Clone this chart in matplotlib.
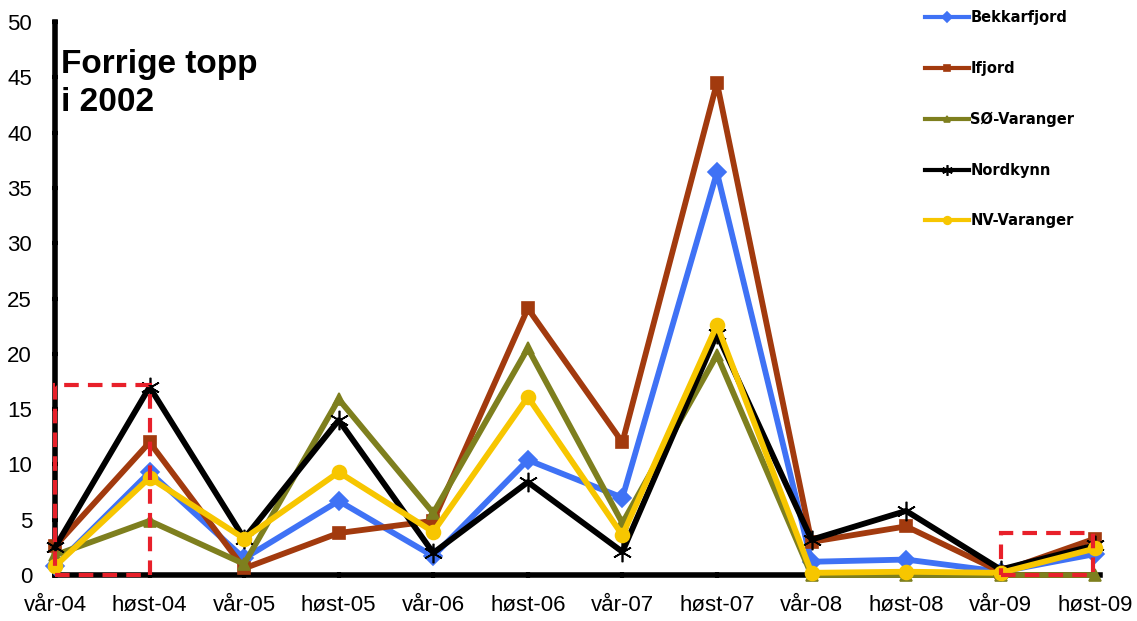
import numpy as np
import matplotlib.pyplot as plt
from matplotlib.patches import Rectangle

perioder = ['vår-04', 'høst-04', 'vår-05', 'høst-05', 'vår-06', 'høst-06',
            'vår-07', 'høst-07', 'vår-08', 'høst-08', 'vår-09', 'høst-09']

bekkarfjord = [0.8, 9.3, 1.5, 6.7, 1.7, 10.4, 7.0, 36.4, 1.2, 1.4, 0.3, 1.9]
ifjord = [2.6, 12.0, 0.6, 3.8, 4.9, 24.1, 12.0, 44.5, 3.0, 4.4, 0.3, 3.3]
so_varanger = [1.8, 4.9, 1.0, 15.9, 5.6, 20.5, 4.7, 19.9, 0.0, 0.0, 0.0, 0.0]
nordkynn = [2.5, 17.0, 3.3, 14.0, 2.0, 8.4, 2.1, 21.8, 3.2, 5.8, 0.5, 2.7]
nv_varanger = [0.8, 8.8, 3.3, 9.3, 3.9, 16.1, 3.6, 22.6, 0.2, 0.3, 0.2, 2.4]

# rammer rundt forrige topp og siste sesong
ramme1 = (0, 17.2)   # start, hoyde
ramme2 = (10, 3.8)

fig = plt.figure(figsize=(11.37, 6.21), dpi=100)
ax = fig.add_axes([0.0484, 0.074, 0.919, 0.8906])
x = np.arange(len(perioder))

serier = [
    (bekkarfjord, 'Bekkarfjord', '#3F72F5', 'D', 9),
    (ifjord, 'Ifjord', '#A23A0E', 's', 9),
    (so_varanger, 'SØ-Varanger', '#7E7F1E', '^', 9),
    (nordkynn, 'Nordkynn', 'black', (6, 2, 0), 14),
    (nv_varanger, 'NV-Varanger', '#F7C600', 'o', 10),
]
for y, navn, farge, mk, ms in serier:
    ax.plot(x, y, color=farge, lw=4.2, marker=mk, ms=ms, mew=1.2,
            label=navn, clip_on=False, zorder=3)

for start, h in [ramme1, ramme2]:
    ax.add_patch(Rectangle((start, 0), 0.98 if start else 1, h, fill=False,
                           ec='#E8202A', lw=3, ls=(0, (3.5, 2.2)),
                           clip_on=False, zorder=4))

ax.set_xlim(0, 11.05)
ax.set_ylim(0, 50)
ax.set_yticks(range(0, 51, 5))
ax.set_xticks(x)
ax.set_xticklabels(perioder)
for s in ['top', 'right']:
    ax.spines[s].set_visible(False)
for s in ['left', 'bottom']:
    ax.spines[s].set_linewidth(4)
ax.tick_params(length=5, width=3, direction='inout', labelsize=16)
for t in ax.get_xticklabels() + ax.get_yticklabels():
    t.set_family('Liberation Sans')
ax.tick_params(axis='x', pad=12)
ax.tick_params(axis='y', pad=14)

ax.text(0.06, 47.6, 'Forrige topp\ni 2002', fontsize=24, fontweight='bold',
        family='Liberation Sans', va='top', ha='left', linespacing=1.3)

leg = ax.legend(loc='upper left', bbox_to_anchor=(0.82, 1.045), frameon=False,
                labelspacing=2.45, handlelength=3.0, handletextpad=0.1,
                markerscale=0.55, prop={'size': 10.5, 'weight': 'bold'})
for l in leg.get_lines():
    l.set_linewidth(3)

fig.savefig('out.png', dpi=100)
